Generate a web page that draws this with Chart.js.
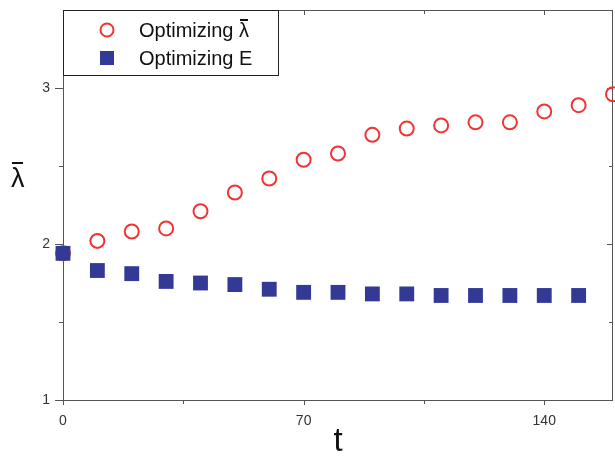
<!DOCTYPE html>
<html>
<head>
<meta charset="utf-8">
<script src="https://cdn.jsdelivr.net/npm/chart.js@4.4.0/dist/chart.umd.min.js"></script>
<style>
  html, body { margin: 0; padding: 0; background: #fff; }
</style>
</head>
<body>
<canvas id="chart" width="615" height="460"></canvas>
<script>
// --- Data ---
const lambdaT = [0, 10, 20, 30, 40, 50, 60, 70, 80, 90, 100, 110, 120, 130, 140, 150, 160];
const lambdaRun = [1.94, 2.02, 2.08, 2.10, 2.21, 2.33, 2.42, 2.54, 2.58, 2.70, 2.74, 2.76, 2.78, 2.78, 2.85, 2.89, 2.96];
const energyT = [0, 10, 20, 30, 40, 50, 60, 70, 80, 90, 100, 110, 120, 130, 140, 150];
const energyRun = [1.94, 1.83, 1.81, 1.76, 1.75, 1.74, 1.71, 1.69, 1.69, 1.68, 1.68, 1.67, 1.67, 1.67, 1.67, 1.67];
const seriesNames = ['Optimizing \u03BB', 'Optimizing E'];
const xTicks = [0, 70, 140];
const xMinorTicks = [35, 105];
const yTicks = [1, 2, 3];
const yMinorTicks = [1.5, 2.5];

const RED = 'rgb(240, 52, 52)';
const BLUE = 'rgb(50, 58, 150)';
const AXIS = '#555';
const FONT = '"Liberation Sans", Arial, sans-serif';

const toPoints = (xs, ys) => xs.map((x, i) => ({ x: x, y: ys[i] }));

// a lambda with a bar over it, text drawn then the bar ruled above
function drawLambdaBar(ctx, text, x, y, size) {
  ctx.font = size + 'px ' + FONT;
  ctx.textBaseline = 'alphabetic';
  ctx.textAlign = 'left';
  ctx.fillText(text, x, y);
  const w = ctx.measureText(text).width;
  const lw = ctx.measureText('\u03BB').width;
  const bx = x + w - lw;
  ctx.fillRect(Math.round(bx + lw * 0.08), Math.round(y - size * 0.92), Math.round(lw * 0.84), Math.max(2, Math.round(size * 0.08)));
}

// --- Frame, ticks, y title and legend ---
const framePlugin = {
  id: 'frame',
  beforeDatasetsDraw(chart) {
    const { ctx, chartArea: a, scales: { x, y } } = chart;
    ctx.save();
    ctx.strokeStyle = AXIS;
    ctx.lineWidth = 1;
    ctx.strokeRect(a.left + 0.5, a.top + 0.5, a.right - a.left - 1, a.bottom - a.top);
    ctx.beginPath();
    const xt = (v, len, inTop) => {
      const px = Math.round(x.getPixelForValue(v)) + 0.5;
      ctx.moveTo(px, a.bottom); ctx.lineTo(px, a.bottom + len);
      ctx.moveTo(px, a.top); ctx.lineTo(px, a.top + inTop);
    };
    const yt = (v, len, inRight) => {
      const py = Math.round(y.getPixelForValue(v)) + 0.5;
      ctx.moveTo(a.left, py); ctx.lineTo(a.left - len, py);
      ctx.moveTo(a.right, py); ctx.lineTo(a.right - inRight, py);
    };
    xTicks.forEach(v => xt(v, 5, 5));
    xMinorTicks.forEach(v => xt(v, 4, 4));
    yTicks.forEach(v => yt(v, 8, 6));
    yMinorTicks.forEach(v => yt(v, 4, 4));
    ctx.stroke();
    ctx.restore();
  },
  afterDraw(chart) {
    const { ctx, chartArea: a } = chart;
    ctx.save();
    ctx.fillStyle = '#111';
    // y title, upright
    drawLambdaBar(ctx, '\u03BB', 11, 187, 27);

    // legend box
    const lx = a.left, ly = a.top, lw = 215, lh = 65;
    ctx.fillStyle = '#fff';
    ctx.fillRect(lx, ly, lw, lh);
    ctx.strokeStyle = '#222';
    ctx.lineWidth = 1;
    ctx.strokeRect(lx + 0.5, ly + 0.5, lw, lh);

    const rows = [ly + 20, ly + 48];
    ctx.lineWidth = 2;
    ctx.strokeStyle = RED;
    ctx.beginPath();
    ctx.arc(lx + 44, rows[0], 6.5, 0, Math.PI * 2);
    ctx.stroke();
    ctx.fillStyle = BLUE;
    ctx.fillRect(lx + 37, rows[1] - 7, 14, 14);

    ctx.fillStyle = '#111';
    drawLambdaBar(ctx, seriesNames[0], lx + 76, rows[0] + 7, 20);
    ctx.fillText(seriesNames[1], lx + 76, rows[1] + 7);
    ctx.restore();
  }
};

const noPad = s => { s.paddingTop = 0; s.paddingBottom = 0; s.paddingLeft = 0; s.paddingRight = 0; };

const ctx = document.getElementById('chart').getContext('2d');
new Chart(ctx, {
  type: 'scatter',
  data: {
    datasets: [
      {
        label: seriesNames[1],
        data: toPoints(energyT, energyRun),
        pointStyle: 'rect',
        pointRadius: 10.5,
        pointHoverRadius: 10.5,
        backgroundColor: BLUE,
        borderColor: BLUE,
        borderWidth: 0,
        clip: false
      },
      {
        label: seriesNames[0],
        data: toPoints(lambdaT, lambdaRun),
        pointStyle: 'circle',
        pointRadius: 7,
        pointHoverRadius: 7,
        backgroundColor: 'rgba(255,255,255,0)',
        borderColor: RED,
        borderWidth: 2,
        clip: false
      }
    ]
  },
  options: {
    responsive: false,
    animation: false,
    layout: { autoPadding: false, padding: { top: 10, right: 2, left: 0, bottom: 0 } },
    plugins: { legend: { display: false }, tooltip: { enabled: false } },
    scales: {
      x: {
        type: 'linear',
        min: 0,
        max: 160,
        afterBuildTicks: s => { s.ticks = xTicks.map(v => ({ value: v })); },
        afterFit: s => { s.height = 60; noPad(s); },
        grid: { display: false },
        border: { display: false },
        ticks: { padding: 5, color: '#333', font: { family: FONT, size: 14 }, maxRotation: 0 },
        title: { display: true, text: 't', color: '#111', font: { family: FONT, size: 33 }, padding: { top: 0, bottom: -2 } }
      },
      y: {
        type: 'linear',
        min: 1,
        max: 3.5,
        afterBuildTicks: s => { s.ticks = yTicks.map(v => ({ value: v })); },
        afterFit: s => { s.width = 63; noPad(s); },
        grid: { display: false },
        border: { display: false },
        ticks: { padding: 5, color: '#333', font: { family: FONT, size: 14 } }
      }
    }
  },
  plugins: [framePlugin]
});
</script>
</body>
</html>
